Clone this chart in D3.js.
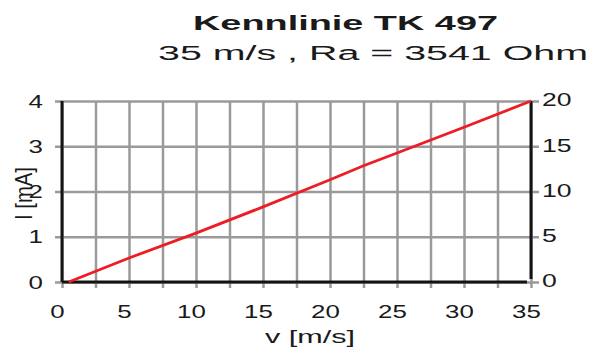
<!DOCTYPE html>
<html>
<head>
<meta charset="utf-8">
<script src="https://cdn.jsdelivr.net/npm/d3@7"></script>
<style>
  body { margin: 0; background: #fff; }
  svg { display: block; font-family: "Liberation Sans", Arial, sans-serif; }
</style>
</head>
<body>
<div class="chart"></div>
<script>
// Kennlinie data
var speed = [0.5, 5, 10, 15, 20, 22.5, 25, 30, 35];     // v [m/s]
var current = [0, 0.53, 1.08, 1.66, 2.26, 2.57, 2.85, 3.42, 4.0]; // I [mA]

// tick labels
var xTicks = [0, 5, 10, 15, 20, 25, 30, 35];
var xGridTicks = [0, 2.5, 5, 7.5, 10, 12.5, 15, 17.5, 20, 22.5, 25, 27.5, 30, 32.5, 35];
var yTicks = [0, 1, 2, 3, 4];
var yRightTicks = [0, 5, 10, 15, 20];

var svgWidth = 599;
var svgHeight = 353;

// plot area
var margin = {top: 101, right: 68, bottom: 71, left: 62};
var width = svgWidth - margin.left - margin.right;
var height = svgHeight - margin.top - margin.bottom;

var svg = d3.select(".chart")
  .append("svg")
  .attr("width", svgWidth)
  .attr("height", svgHeight);

var chart = svg.append("g")
  .attr("transform", "translate(" + margin.left + "," + margin.top + ")");

var xScale = d3.scaleLinear().domain([0, 35]).range([0, width]);
var yScale = d3.scaleLinear().domain([0, 4]).range([height, 0]);
var yRight = d3.scaleLinear().domain([0, 20]).range([height, 0]);

var gridColor = "#9a9a9a";
var stretch = 1.4;

// horizontal grid lines (stick out a bit left and right)
chart.append("g")
  .attr("class", "grid-y")
  .attr("transform", "translate(" + (width + 8) + ",0)")
  .call(d3.axisLeft(yScale).tickValues(yTicks).tickSize(width + 15).tickFormat(""))
  .call(function(g) {
    g.select(".domain").remove();
    g.selectAll("line").attr("stroke", gridColor).attr("stroke-width", 2.5);
  });

// vertical grid lines (stick out below)
chart.append("g")
  .attr("class", "grid-x")
  .attr("transform", "translate(0," + (height + 6) + ")")
  .call(d3.axisTop(xScale).tickValues(xGridTicks).tickSize(height + 6).tickFormat(""))
  .call(function(g) {
    g.select(".domain").remove();
    g.selectAll("line").attr("stroke", gridColor).attr("stroke-width", 2.5);
  });

// black frame: left, bottom, right
var frame = chart.append("g").attr("stroke", "#141414").attr("stroke-width", 3);
frame.append("line")
  .attr("x1", xScale(0)).attr("x2", xScale(0))
  .attr("y1", yScale(4)).attr("y2", yScale(0));
frame.append("line")
  .attr("x1", xScale(0)).attr("x2", xScale(35) - 4)
  .attr("y1", yScale(0)).attr("y2", yScale(0));
frame.append("line")
  .attr("x1", xScale(35)).attr("x2", xScale(35))
  .attr("y1", yScale(4)).attr("y2", yScale(0) - 3);

// the characteristic line
var line = d3.line()
  .x(function(d, i) { return xScale(speed[i]); })
  .y(function(d) { return yScale(d); });

chart.append("path")
  .datum(current)
  .attr("fill", "none")
  .attr("stroke", "#ee1c25")
  .attr("stroke-width", 2.8)
  .attr("d", line);

// x axis labels
chart.append("g")
  .attr("class", "x-axis")
  .attr("transform", "translate(0," + height + ")")
  .call(d3.axisBottom(xScale).tickValues(xTicks).tickSize(0).tickPadding(0))
  .call(function(g) {
    g.select(".domain").remove();
    g.selectAll("text")
      .attr("y", 36).attr("dy", null)
      .attr("font-size", 18.5)
      .attr("fill", "#1a1a1a")
      .attr("transform", "translate(-5,0) scale(" + stretch + ",1)");
  });

// left axis labels
chart.append("g")
  .attr("class", "y-axis")
  .call(d3.axisLeft(yScale).tickValues(yTicks).tickFormat(d3.format("d")).tickSize(0).tickPadding(0))
  .call(function(g) {
    g.select(".domain").remove();
    g.selectAll("text")
      .attr("x", -19 / stretch).attr("dy", "0.33em")
      .attr("font-size", 18.5)
      .attr("fill", "#1a1a1a")
      .attr("transform", "scale(" + stretch + ",1)");
  });

// right axis labels
chart.append("g")
  .attr("class", "y-axis-right")
  .attr("transform", "translate(" + width + ",0)")
  .call(d3.axisRight(yRight).tickValues(yRightTicks).tickFormat(d3.format("d")).tickSize(0).tickPadding(0))
  .call(function(g) {
    g.select(".domain").remove();
    g.selectAll("text")
      .attr("x", 11 / stretch).attr("dy", "0.25em")
      .attr("font-size", 19)
      .attr("fill", "#1a1a1a")
      .attr("transform", "scale(" + stretch + ",1)");
  });

// axis titles
svg.append("text")
  .attr("x", 265).attr("y", 343)
  .attr("font-size", 19)
  .attr("fill", "#1a1a1a")
  .attr("textLength", 90)
  .attr("lengthAdjust", "spacingAndGlyphs")
  .text("v [m/s]");

svg.append("text")
  .attr("transform", "translate(32,220) scale(1.35,1) rotate(-90)")
  .attr("font-size", 18)
  .attr("fill", "#1a1a1a")
  .attr("textLength", 53)
  .attr("lengthAdjust", "spacingAndGlyphs")
  .text("I [mA]");

// titles
svg.append("text")
  .attr("x", 193).attr("y", 30)
  .attr("font-size", 19.5)
  .attr("font-weight", "bold")
  .attr("fill", "#1a1a1a")
  .attr("textLength", 305)
  .attr("lengthAdjust", "spacingAndGlyphs")
  .text("Kennlinie TK 497");

svg.append("text")
  .attr("x", 158).attr("y", 60)
  .attr("font-size", 19.5)
  .attr("fill", "#1a1a1a")
  .attr("textLength", 430)
  .attr("lengthAdjust", "spacingAndGlyphs")
  .text("35 m/s , Ra = 3541 Ohm");
</script>
</body>
</html>
